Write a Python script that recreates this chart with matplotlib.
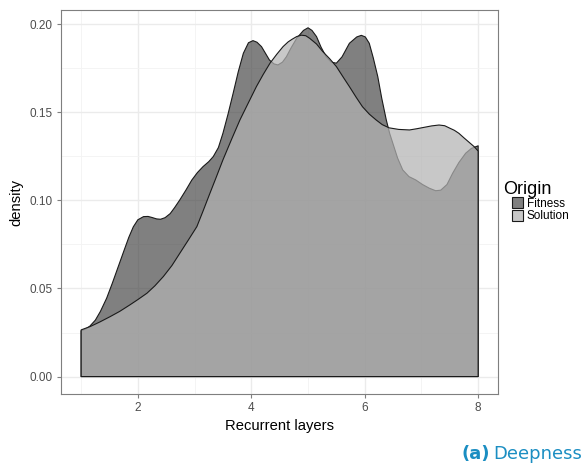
import numpy as np
import matplotlib
matplotlib.use('Agg')
import matplotlib.pyplot as plt
from matplotlib.patches import Patch

# density curves
fitness_x = [1.0, 1.08, 1.15, 1.25, 1.34, 1.45, 1.55, 1.65, 1.75, 1.84, 1.92, 2.0, 2.1, 2.18,
             2.25, 2.33, 2.4, 2.48, 2.57, 2.65, 2.74, 2.85, 2.95, 3.05, 3.15, 3.25, 3.33, 3.42,
             3.5, 3.59, 3.68, 3.77, 3.86, 3.95, 4.03, 4.1, 4.18, 4.25, 4.32, 4.4, 4.47, 4.55,
             4.62, 4.7, 4.8, 4.92, 5.0, 5.07, 5.15, 5.23, 5.32, 5.41, 5.5, 5.6, 5.73, 5.86,
             5.94, 6.01, 6.08, 6.15, 6.23, 6.3, 6.38, 6.44, 6.5, 6.58, 6.67, 6.78, 6.9, 7.02,
             7.14, 7.25, 7.34, 7.45, 7.55, 7.66, 7.78, 7.88, 7.96, 8.0]
fitness_y = [0.026, 0.027, 0.0285, 0.032, 0.037, 0.0445, 0.053, 0.062, 0.071, 0.079, 0.085,
             0.089, 0.0908, 0.0909, 0.0903, 0.0895, 0.0893, 0.0902, 0.0925, 0.096, 0.1003,
             0.106, 0.1115, 0.1158, 0.1192, 0.122, 0.1249, 0.130, 0.1381, 0.149, 0.1608,
             0.173, 0.1835, 0.1895, 0.1907, 0.1898, 0.1873, 0.1835, 0.1797, 0.1775, 0.1769,
             0.1785, 0.1816, 0.1865, 0.192, 0.1965, 0.1980, 0.1965, 0.193, 0.187, 0.1816,
             0.1785, 0.1779, 0.1815, 0.1892, 0.1928, 0.1937, 0.1928, 0.1892, 0.181, 0.1703,
             0.158, 0.1457, 0.138, 0.132, 0.124, 0.1173, 0.1135, 0.1116, 0.109, 0.1069,
             0.1055, 0.1058, 0.109, 0.1154, 0.1215, 0.1268, 0.1295, 0.1305, 0.131]

solution_x = [1.0, 1.16, 1.33, 1.51, 1.68, 1.86, 2.0, 2.16, 2.3, 2.45, 2.6, 2.74, 2.89, 3.04,
              3.15, 3.27, 3.38, 3.5, 3.65, 3.8, 3.95, 4.09, 4.21, 4.33, 4.45, 4.56, 4.65,
              4.72, 4.8, 4.88, 4.96, 5.03, 5.15, 5.26, 5.38, 5.5, 5.62, 5.73, 5.85, 5.96, 6.08,
              6.2, 6.31, 6.43, 6.6, 6.79, 6.92, 7.05, 7.18, 7.31, 7.41, 7.5, 7.58, 7.66, 7.75,
              7.84, 7.93, 8.0]
solution_y = [0.0265, 0.0284, 0.031, 0.034, 0.037, 0.0407, 0.0437, 0.0473, 0.0515, 0.0568,
              0.063, 0.070, 0.0775, 0.0851, 0.094, 0.104, 0.113, 0.123, 0.1345, 0.1457,
              0.1555, 0.1646, 0.1715, 0.1779, 0.183, 0.1873, 0.190, 0.1915, 0.193, 0.1938,
              0.1935, 0.192, 0.1888, 0.1845, 0.1805, 0.176, 0.170, 0.1646, 0.1585, 0.1532,
              0.149, 0.1457, 0.143, 0.1412, 0.1403, 0.140, 0.1407, 0.1415, 0.1423, 0.1428,
              0.1424, 0.141, 0.1398, 0.1381, 0.1355, 0.133, 0.1305, 0.128]

origins = ['Fitness', 'Solution']
fills = [(0.2, 0.2, 0.2, 0.62), (0.70, 0.70, 0.70, 0.72)]

x_ticks = [2, 4, 6, 8]
y_ticks = [0.00, 0.05, 0.10, 0.15, 0.20]

plt.rcParams['font.family'] = ['Liberation Sans', 'DejaVu Sans']

fig = plt.figure(figsize=(5.87, 4.70), dpi=100)
ax = fig.add_axes([0.1044, 0.1617, 0.8484 - 0.1044, 0.978 - 0.1617])

ax.set_xlim(0.65, 8.35)
ax.set_ylim(-0.0099, 0.2079)

# grid like theme_bw
ax.set_xticks(x_ticks)
ax.set_yticks(y_ticks)
ax.set_xticks([1, 3, 5, 7], minor=True)
ax.set_yticks([0.025, 0.075, 0.125, 0.175], minor=True)
ax.grid(True, which='major', color='#EBEBEB', linewidth=1.0)
ax.grid(True, which='minor', color='#F3F3F3', linewidth=0.6)
ax.set_axisbelow(True)

for xs, ys, fc in zip([fitness_x, solution_x], [fitness_y, solution_y], fills):
    px = np.concatenate([[xs[0]], xs, [xs[-1]]])
    py = np.concatenate([[0.0], ys, [0.0]])
    ax.fill(px, py, facecolor=fc, edgecolor='#1a1a1a', linewidth=0.8,
            joinstyle='round', zorder=3)

ax.set_yticklabels(['%.2f' % v for v in y_ticks])
ax.tick_params(which='major', length=3, width=0.8, color='#7F7F7F',
               labelsize=8.5, labelcolor='#4D4D4D', pad=3)
ax.tick_params(which='minor', length=0)
for s in ax.spines.values():
    s.set_color('#7F7F7F')
    s.set_linewidth(0.8)

ax.set_xlabel('Recurrent layers', fontsize=10.6, labelpad=3)
ax.set_ylabel('density', fontsize=10.6, labelpad=5)

# legend: title sits a little left of the keys, as in ggplot
handles = [Patch(facecolor=fc, edgecolor='#1a1a1a', linewidth=0.8) for fc in fills]
ax.legend(handles, origins, loc='center left', bbox_to_anchor=(1.032, 0.48),
          frameon=False, fontsize=8.5, handlelength=0.96, handleheight=1.05,
          handletextpad=0.3, labelspacing=0.0, borderaxespad=0, borderpad=0)
fig.text(503 / 587, 1 - 193.5 / 470, 'Origin', fontsize=13, va='baseline', ha='left')

fig.text(0.787, 0.024, '(a)', fontsize=13, fontweight='bold', color='#1b8ec2',
         family='DejaVu Sans')
fig.text(0.840, 0.024, 'Deepness', fontsize=13, color='#1b8ec2', family='DejaVu Sans')

fig.savefig('out.png', dpi=100)
